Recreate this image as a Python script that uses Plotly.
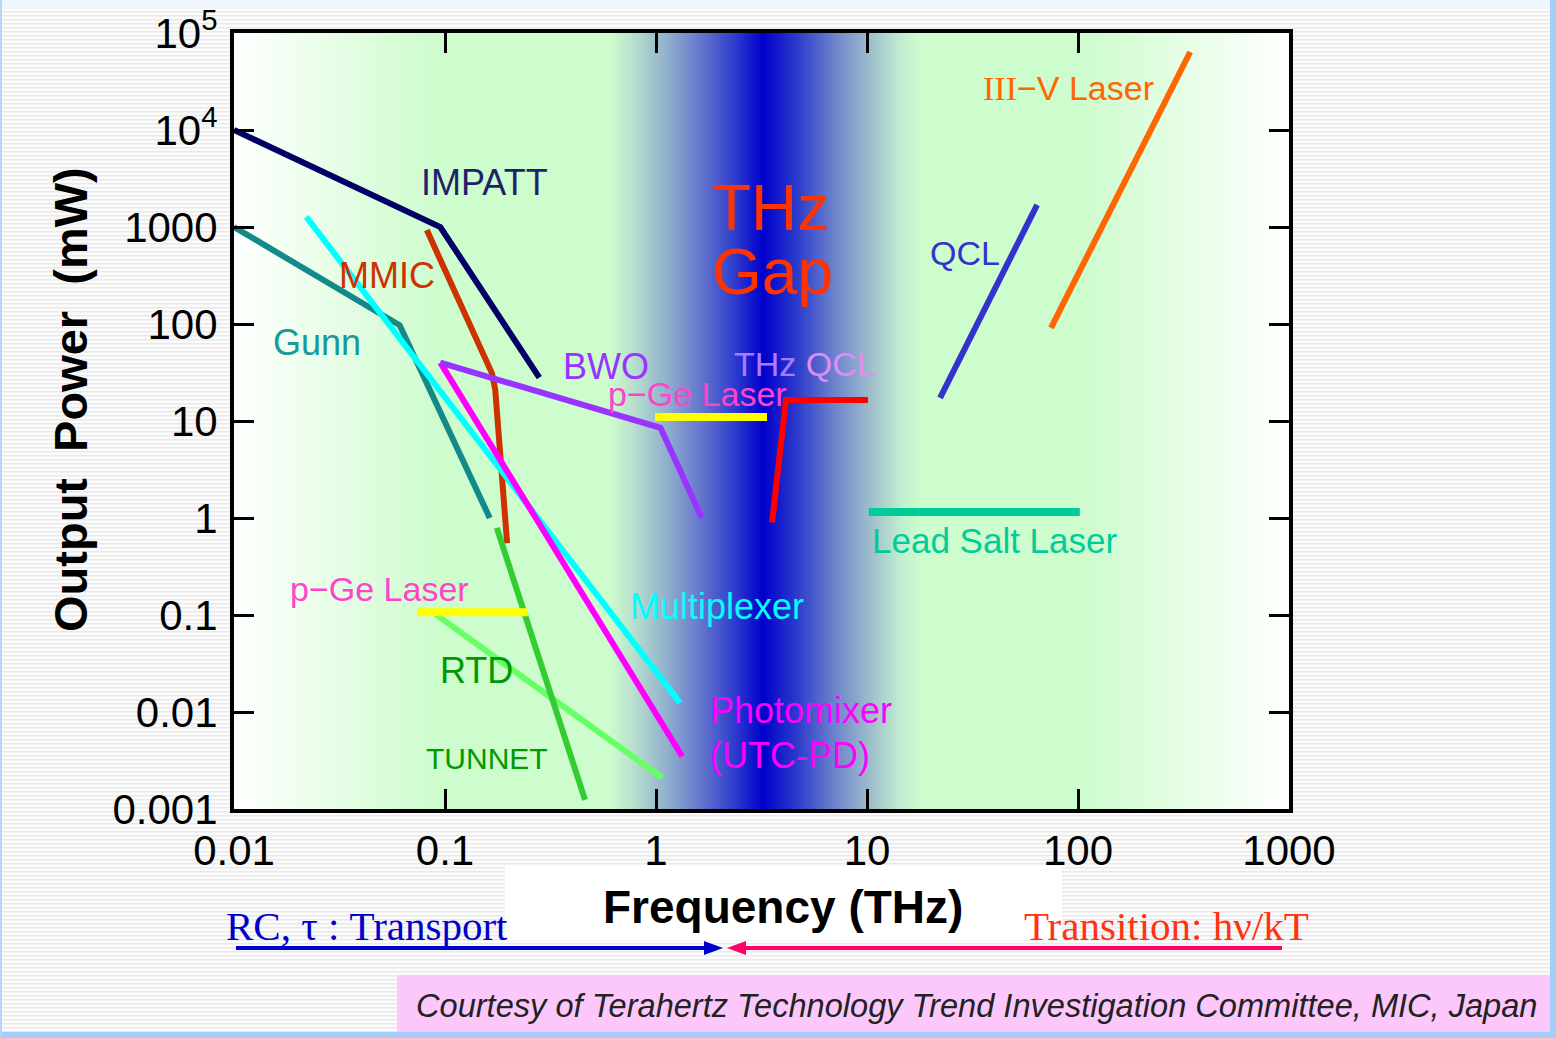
import plotly.graph_objects as go

# ---------------- data (frequency in THz, output power in mW) ----------------
IMPATT_F = [0.01, 0.095, 0.28]
IMPATT_P = [10000, 1000, 28]
GUNN_F = [0.01, 0.061, 0.163]
GUNN_P = [1000, 97, 1.0]
MMIC_F = [0.082, 0.167, 0.173, 0.197]
MMIC_P = [930, 31, 21, 0.55]
MUX_F = [0.022, 1.30]
MUX_P = [1270, 0.0124]
PHOTOMIXER_F = [0.095, 1.33]
PHOTOMIXER_P = [40, 0.0035]
BWO_F = [0.095, 1.05, 1.65]
BWO_P = [40, 8.5, 1.0]
PGE_HI_F = [0.99, 3.36]
PGE_HI_P = [11, 11]
PGE_LO_F = [0.074, 0.247]
PGE_LO_P = [0.107, 0.107]
THZQCL_F = [3.55, 4.13, 10.1]
THZQCL_P = [0.9, 16.5, 16.5]
LEADSALT_F = [10.2, 102]
LEADSALT_P = [1.15, 1.15]
QCL_F = [22.2, 64]
QCL_P = [17.3, 1690]
IIIV_F = [74.5, 340]
IIIV_P = [91, 63700]
RTD_F = [0.09, 1.07]
RTD_P = [0.102, 0.0021]
TUNNET_F = [0.176, 0.461]
TUNNET_P = [0.79, 0.00124]

X_TICKS = [0.01, 0.1, 1, 10, 100, 1000]
X_TICKTEXT = ["0.01", "0.1", "1", "10", "100", "1000"]
Y_TICKS = [0.001, 0.01, 0.1, 1, 10, 100, 1000, 1e4, 1e5]
Y_TICKTEXT = ["0.001", "0.01", "0.1", "1", "10", "100", "1000",
              "10<sup>4</sup>", "10<sup>5</sup>"]

# ---------------- geometry helpers ----------------
W, H = 1556, 1038
L, R, T, B = 234, 267, 33, 229
PW = W - L - R
PH = H - T - B


def xp(px):
    return (px - L) / PW


def yp(py):
    return (H - B - py) / PH


SANS = "Liberation Sans, Arial, sans-serif"
SERIF = "Liberation Serif, Times New Roman, serif"

shapes = []

# page background stripes
for py in range(11, 1032, 4):
    shapes.append(dict(type="rect", xref="paper", yref="paper", layer="below",
                       x0=xp(2), x1=xp(1550), y0=yp(py), y1=yp(py + 1.6),
                       fillcolor="#e9e9e9", line=dict(width=0)))
# top light strip
shapes.append(dict(type="rect", xref="paper", yref="paper", layer="below",
                   x0=xp(0), x1=xp(W), y0=yp(0), y1=yp(9),
                   fillcolor="#eff5fd", line=dict(width=0)))
# borders
shapes.append(dict(type="rect", xref="paper", yref="paper", layer="below",
                   x0=xp(1550), x1=xp(W), y0=yp(0), y1=yp(H),
                   fillcolor="#a6cdf7", line=dict(width=0)))
shapes.append(dict(type="rect", xref="paper", yref="paper", layer="below",
                   x0=xp(0), x1=xp(W), y0=yp(1032), y1=yp(H),
                   fillcolor="#a6cdf7", line=dict(width=0)))
shapes.append(dict(type="rect", xref="paper", yref="paper", layer="below",
                   x0=xp(0), x1=xp(2), y0=yp(0), y1=yp(H),
                   fillcolor="#b4d4f8", line=dict(width=0)))
# white box behind x title
shapes.append(dict(type="rect", xref="paper", yref="paper", layer="below",
                   x0=xp(505), x1=xp(1062), y0=yp(866), y1=yp(940),
                   fillcolor="#ffffff", line=dict(width=0)))
# pink courtesy box
shapes.append(dict(type="rect", xref="paper", yref="paper", layer="below",
                   x0=xp(397), x1=xp(1550), y0=yp(975), y1=yp(1032),
                   fillcolor="#fcc8fb", line=dict(width=0)))

# plot-area gradient (white -> green -> blue gap -> green -> white)
stops = [(234, (255, 255, 255)), (440, (205, 252, 205)), (610, (205, 252, 205)),
         (633, (184, 224, 204)), (667, (144, 176, 204)), (700, (102, 119, 204)),
         (733, (48, 64, 204)), (763, (0, 0, 204)), (800, (48, 64, 204)),
         (833, (106, 128, 204)), (867, (154, 184, 204)), (900, (192, 236, 208)),
         (920, (205, 252, 205)), (1080, (205, 252, 205)), (1289, (255, 255, 255))]


def color_at(px):
    for (a, ca), (b, cb) in zip(stops, stops[1:]):
        if a <= px <= b:
            t = (px - a) / (b - a)
            return tuple(round(ca[i] + (cb[i] - ca[i]) * t) for i in range(3))
    return stops[-1][1]


step = 2
runs = []
px = 234
while px < 1289:
    c = color_at(px + step / 2)
    if runs and runs[-1][2] == c:
        runs[-1][1] = px + step
    else:
        runs.append([px, px + step, c])
    px += step
for a, b, c in runs:
    shapes.append(dict(type="rect", xref="paper", yref="paper", layer="below",
                       x0=xp(a), x1=xp(min(b + 0.8, 1289)), y0=yp(809), y1=yp(33),
                       fillcolor="rgb(%d,%d,%d)" % c, line=dict(width=0)))

# bottom arrows
shapes.append(dict(type="line", xref="paper", yref="paper",
                   x0=xp(236), x1=xp(710), y0=yp(948), y1=yp(948),
                   line=dict(color="#0000cc", width=4)))
shapes.append(dict(type="path", xref="paper", yref="paper",
                   path="M %f %f L %f %f L %f %f Z" % (xp(723), yp(948), xp(704), yp(941), xp(704), yp(955)),
                   fillcolor="#0000cc", line=dict(width=0)))
shapes.append(dict(type="line", xref="paper", yref="paper",
                   x0=xp(742), x1=xp(1282), y0=yp(948), y1=yp(948),
                   line=dict(color="#ff0066", width=4)))
shapes.append(dict(type="path", xref="paper", yref="paper",
                   path="M %f %f L %f %f L %f %f Z" % (xp(727), yp(948), xp(746), yp(941), xp(746), yp(955)),
                   fillcolor="#ff0066", line=dict(width=0)))

fig = go.Figure()


def add_line(xs, ys, color, width=6):
    fig.add_trace(go.Scatter(x=xs, y=ys, mode="lines", showlegend=False,
                             hoverinfo="skip", line=dict(color=color, width=width)))


add_line(GUNN_F, GUNN_P, "#138a8a")
add_line(IMPATT_F, IMPATT_P, "#000066")
add_line(MMIC_F, MMIC_P, "#cc3300")
add_line(MUX_F, MUX_P, "#00ffff")
add_line(PHOTOMIXER_F, PHOTOMIXER_P, "#ff00ff")
add_line(BWO_F, BWO_P, "#9933ff")
add_line(RTD_F, RTD_P, "#66ff66")
add_line(TUNNET_F, TUNNET_P, "#33cc33")
add_line(PGE_LO_F, PGE_LO_P, "#ffff00", 8)
add_line(PGE_HI_F, PGE_HI_P, "#ffff00", 8)
add_line(THZQCL_F, THZQCL_P, "#ff0000")
add_line(LEADSALT_F, LEADSALT_P, "#00cc99", 8)
add_line(QCL_F, QCL_P, "#3333cc")
add_line(IIIV_F, IIIV_P, "#ff6600")

labels = [
    ("IMPATT", 484, 182, "#1f1f6b", 36),
    ("MMIC", 387, 275, "#cc3300", 36),
    ("Gunn", 317, 342, "#1a9999", 36),
    ("BWO", 606, 366, "#9933ff", 36),
    ("<span style='color:#a97cff'>THz</span> <span style='color:#e08cf4'>QCL</span>", 805, 364, "#cc88ff", 34),
    ("p−Ge Laser", 697, 394, "#ff44cc", 34),
    ("p−Ge Laser", 379, 589, "#ff44cc", 34),
    ("THz", 770, 208, "#ff3300", 64),
    ("Gap", 772, 272, "#ff3300", 64),
    ("QCL", 965, 253, "#3333cc", 34),
    ("<span style='font-family:Liberation Serif'>III</span>−V Laser", 1068, 88, "#ff6600", 34),
    ("Lead Salt Laser", 995, 540, "#00cc99", 35),
    ("Multiplexer", 717, 606, "#00ffff", 36),
    ("Photomixer", 801, 710, "#ff00ff", 36),
    ("(UTC-PD)", 790, 755, "#ff00ff", 36),
    ("RTD", 476, 670, "#009900", 36),
    ("TUNNET", 487, 758, "#009900", 30),
]

annotations = []
for text, px_, py_, col, size in labels:
    annotations.append(dict(text=text, x=xp(px_), y=yp(py_), xref="paper", yref="paper",
                            xanchor="center", yanchor="middle", showarrow=False,
                            font=dict(family=SANS, size=size, color=col)))

# axis titles
annotations.append(dict(text="<b>Frequency (THz)</b>", x=xp(783), y=yp(907),
                        xref="paper", yref="paper", xanchor="center", yanchor="middle",
                        showarrow=False, font=dict(family=SANS, size=46, color="black")))
annotations.append(dict(text="<b>Output  Power  (mW)</b>", x=xp(70), y=yp(400),
                        xref="paper", yref="paper", xanchor="center", yanchor="middle",
                        textangle=-90, showarrow=False,
                        font=dict(family=SANS, size=47, color="black")))
# bottom texts
annotations.append(dict(text="RC, τ : Transport", x=xp(224), y=yp(926),
                        xref="paper", yref="paper", xanchor="left", yanchor="middle",
                        showarrow=False, font=dict(family=SERIF, size=41, color="#0000cc")))
annotations.append(dict(text="Transition: hν/kT", x=xp(1022), y=yp(926),
                        xref="paper", yref="paper", xanchor="left", yanchor="middle",
                        showarrow=False, font=dict(family=SERIF, size=41, color="#ff3311")))
annotations.append(dict(text="<i>Courtesy of Terahertz Technology Trend Investigation Committee, MIC, Japan</i>",
                        x=xp(976), y=yp(1005), xref="paper", yref="paper",
                        xanchor="center", yanchor="middle", showarrow=False,
                        font=dict(family=SANS, size=32.6, color="#222222")))

axis_common = dict(type="log", showgrid=False, zeroline=False, showline=True,
                   linecolor="black", linewidth=4, mirror="ticks",
                   ticks="inside", ticklen=20, tickwidth=3, tickcolor="black",
                   tickfont=dict(family=SANS, size=42, color="black"))

fig.update_layout(
    width=W, height=H,
    margin=dict(l=L, r=R, t=T, b=B, autoexpand=False),
    paper_bgcolor="#fbfbfb",
    plot_bgcolor="rgba(0,0,0,0)",
    shapes=shapes,
    annotations=annotations,
    xaxis=dict(range=[-2, 3], tickvals=X_TICKS, ticktext=X_TICKTEXT,
               ticklabelstandoff=2, **axis_common),
    yaxis=dict(range=[-3, 5], tickvals=Y_TICKS, ticktext=Y_TICKTEXT,
               ticklabelstandoff=4, **axis_common),
    showlegend=False,
)

fig.write_html("out.html", config={"displayModeBar": False},
               post_script="document.body.style.margin='0';document.body.style.overflow='hidden';")
